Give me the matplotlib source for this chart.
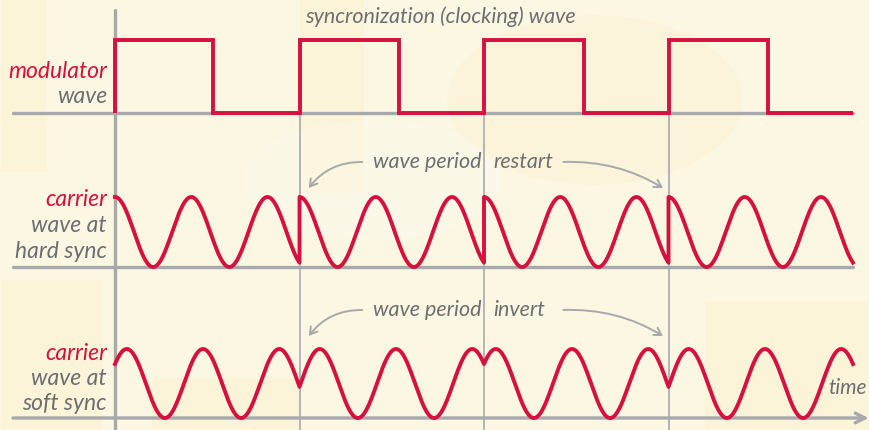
import numpy as np
import matplotlib.pyplot as plt
from matplotlib.patches import Rectangle, Ellipse

# modulator (clock) square wave: edges in clock periods, level per interval
mod_edges = [0, 0.53, 1.0, 1.54, 2.0, 2.54, 3.0, 3.54, 4.0]
mod_levels = [1, 0, 1, 0, 1, 0, 1, 0]
sync_times = [0, 1, 2, 3, 4]          # carrier is synced at each rising edge
carrier_cycles = 2.42                 # carrier cycles per clock period
soft_start_phase = 0.6                # radians, soft sync carrier starts mid-rise

title = "syncronization (clocking) wave"
row_labels = [
    ("modulator", ["wave"]),
    ("carrier", ["wave at", "hard sync"]),
    ("carrier", ["wave at", "soft sync"]),
]
notes = [("wave period", "restart"), ("wave period", "invert")]

RED = "#d6103f"
GRAY = "#a7a9ac"
TXT = "#6d6e71"
BG = "#fcf7e2"

# layout (figure is 869x430 px, y counted from the bottom)
base = [317, 163, 12]
mod_height = 73
carrier_amp = 35
fam = ["Lato", "DejaVu Sans"]

fig = plt.figure(figsize=(8.69, 4.30), dpi=100)
fig.patch.set_facecolor(BG)
ax = fig.add_axes([0, 0, 1, 1])
ax.set_facecolor(BG)
px = 184.5
ax.set_xlim(-115 / px, (869 - 115) / px)
ax.set_ylim(0, 430)
ax.axis("off")

# faint background shapes
for (x0, y0, w, h) in [(-0.62, 0.0, 0.55, 0.35), (0.2, 0.0, 0.8, 0.12), (1.0, 0.55, 0.35, 0.45),
                       (3.2, 0.0, 0.9, 0.3), (-0.62, 0.6, 0.25, 0.4)]:
    ax.add_patch(Rectangle((x0, y0 * 430), w, h * 430, color="#f7e9b0", alpha=0.2, lw=0, zorder=0))
ax.add_patch(Ellipse((2.6, 330), 1.6, 170, color="#f7e9b0", alpha=0.15, lw=0, zorder=0))
ax.add_patch(Ellipse((1.4, 250), 1.4, 120, color="#fffdf4", alpha=0.3, lw=0, zorder=0))

# axes lines
ax.plot([0, 0], [0, 420], color=GRAY, lw=2.4, solid_capstyle="round", zorder=1)
for s in sync_times[1:-1]:
    ax.plot([s, s], [0, base[0]], color=GRAY, lw=1.2, zorder=1)
left = -102 / px
for b in base[:2]:
    ax.plot([left, 4.0], [b, b], color=GRAY, lw=2.4, solid_capstyle="round", zorder=1)
ax.annotate("", xy=(4.085, base[2]), xytext=(left, base[2]),
            arrowprops=dict(arrowstyle="->,head_length=0.7,head_width=0.35", lw=2.4,
                            color=GRAY, shrinkA=0, shrinkB=0), zorder=1)

# modulator
ax.stairs(base[0] + mod_height * np.array(mod_levels), mod_edges, baseline=base[0],
          color=RED, lw=2.8, zorder=3)

# carrier hard sync: restart the period at each sync
ht, hy = [], []
sp = 2 * np.pi * carrier_cycles
for a, b in zip(sync_times[:-1], sync_times[1:]):
    t = np.linspace(a, b, 200)
    ht.append(t)
    hy.append(np.cos(sp * (t - a)))
ax.plot(np.concatenate(ht), base[1] + carrier_amp * (1 + np.concatenate(hy)),
        color=RED, lw=2.8, zorder=3, solid_joinstyle="round")

# carrier soft sync: invert the direction at each sync
st, sy = [], []
phase = soft_start_phase
for k, (a, b) in enumerate(zip(sync_times[:-1], sync_times[1:])):
    d = 1 if k % 2 == 0 else -1
    t = np.linspace(a, b, 200)
    st.append(t)
    sy.append(np.sin(phase + d * sp * (t - a)))
    phase = phase + d * sp
ax.plot(np.concatenate(st), base[2] + 34.5 * (1 + np.concatenate(sy)),
        color=RED, lw=2.8, zorder=3, solid_joinstyle="round")

# labels
lab_x = -8 / px
row_tops = [359, 230, 77]
for (red, grays), ytop in zip(row_labels, row_tops):
    ax.text(lab_x, ytop, red, color=RED, fontsize=16.5, style="italic", family=fam,
            ha="right", va="center")
    for i, g in enumerate(grays):
        ax.text(lab_x, ytop - 25.5 * (i + 1), g, color=TXT, fontsize=16.5, style="italic",
                family=fam, ha="right", va="center")

ax.text((440 - 115) / px, 413, title, color=TXT, fontsize=15.5, style="italic",
        family=fam, ha="center", va="center")
ax.text((867 - 115) / px, 42, "time", color=TXT, fontsize=15, style="italic",
        family=fam, ha="right", va="center")

for (l, r), ny in zip(notes, [268, 120]):
    ax.text(1.985, ny, l, color=TXT, fontsize=15.5, style="italic", family=fam,
            ha="right", va="center")
    ax.text(2.05, ny, r, color=TXT, fontsize=15.5, style="italic", family=fam,
            ha="left", va="center")
    ax.annotate("", xy=(1.05, ny - 26), xytext=(1.34, ny),
                arrowprops=dict(arrowstyle="->,head_length=0.5,head_width=0.3", lw=1.4,
                                color=GRAY, shrinkA=0, shrinkB=0,
                                connectionstyle="arc3,rad=0.25"))
    ax.annotate("", xy=(2.97, ny - 26), xytext=(2.43, ny),
                arrowprops=dict(arrowstyle="->,head_length=0.5,head_width=0.3", lw=1.4,
                                color=GRAY, shrinkA=0, shrinkB=0,
                                connectionstyle="arc3,rad=-0.15"))

fig.savefig("out.png", dpi=100, facecolor=BG)
